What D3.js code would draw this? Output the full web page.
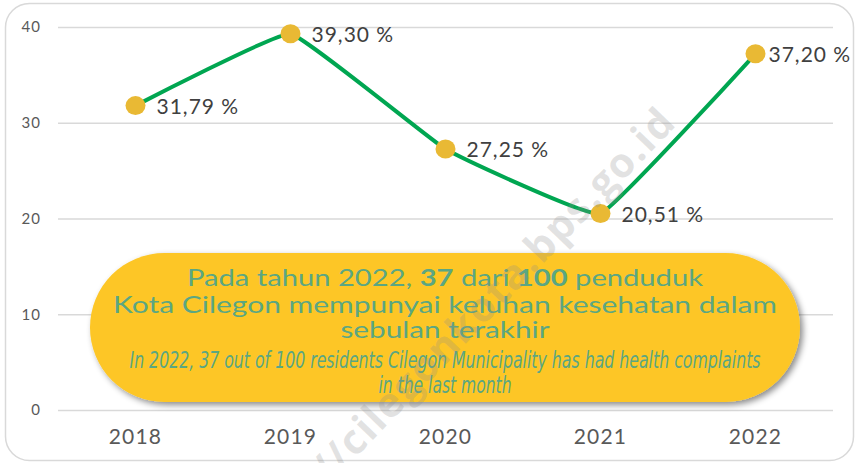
<!DOCTYPE html>
<html>
<head>
<meta charset="utf-8">
<script src="https://cdn.jsdelivr.net/npm/d3@7"></script>
<style>
  body { margin: 0; background: #fff; }
  svg { display: block; }
</style>
</head>
<body>
<script>
// data
var years = ["2018", "2019", "2020", "2021", "2022"];
var values = [31.79, 39.30, 27.25, 20.51, 37.20];
var valueLabels = ["31,79 %", "39,30 %", "27,25 %", "20,51 %", "37,20 %"];
var yTicks = [0, 10, 20, 30, 40];

var width = 857, height = 463;
var margin = {top: 27, right: 24, bottom: 53, left: 58};

var svg = d3.select("body").append("svg")
    .attr("width", width)
    .attr("height", height);

var defs = svg.append("defs");
var shadow = defs.append("filter").attr("id", "shadow")
    .attr("x", "-10%").attr("y", "-20%").attr("width", "120%").attr("height", "150%");
shadow.append("feDropShadow")
    .attr("dx", 3).attr("dy", 3).attr("stdDeviation", 3)
    .attr("flood-color", "#000").attr("flood-opacity", 0.45);

// card outline
svg.append("rect")
    .attr("x", 5.5).attr("y", 3.5)
    .attr("width", width - 9).attr("height", height - 6)
    .attr("rx", 24)
    .attr("fill", "#fff")
    .attr("stroke", "#d9d9d9")
    .attr("stroke-width", 1.5);

var x = d3.scaleBand()
    .domain(years)
    .range([margin.left, width - margin.right]);

var y = d3.scaleLinear()
    .domain([0, 40])
    .range([height - margin.bottom, margin.top]);

// grid + y labels
var yAxis = svg.append("g")
    .attr("transform", `translate(${margin.left},0)`)
    .call(d3.axisLeft(y).tickValues(yTicks).tickSize(-(width - margin.left - margin.right)).tickPadding(17));
yAxis.select(".domain").remove();
yAxis.selectAll("line").attr("stroke", "#d9d9d9").attr("stroke-width", 1.5);
yAxis.selectAll("text")
    .attr("fill", "#595959")
    .style("font-family", "Lato, sans-serif")
    .style("font-size", "15px")
    .style("letter-spacing", "1px");

// x labels
var xAxis = svg.append("g")
    .attr("transform", `translate(0,${height - margin.bottom})`)
    .call(d3.axisBottom(x).tickSize(0).tickPadding(19));
xAxis.select(".domain").remove();
xAxis.selectAll("text")
    .attr("fill", "#595959")
    .style("font-family", "Lato, sans-serif")
    .style("font-size", "21px")
    .style("letter-spacing", "1.2px");

var pts = years.map(function(d, i) { return {year: d, value: values[i], label: valueLabels[i]}; });

var line = d3.line()
    .x(function(d) { return x(d.year) + x.bandwidth() / 2; })
    .y(function(d) { return y(d.value); })
    .curve(d3.curveCardinal.tension(0.75));

svg.append("path")
   .datum(pts)
   .attr("fill", "none")
   .attr("stroke", "#00A651")
   .attr("stroke-width", 4)
   .attr("d", line);

svg.selectAll(".dot")
   .data(pts)
   .enter().append("ellipse")
   .attr("class", "dot")
   .attr("cx", function(d) { return x(d.year) + x.bandwidth() / 2; })
   .attr("cy", function(d) { return y(d.value); })
   .attr("rx", 10).attr("ry", 9.5)
   .attr("fill", "#E9B934");

svg.selectAll(".vlabel")
   .data(pts)
   .enter().append("text")
   .attr("class", "vlabel")
   .attr("x", function(d, i) { return x(d.year) + x.bandwidth() / 2 + (i == pts.length - 1 ? 13 : 21); })
   .attr("y", function(d) { return y(d.value) + 8; })
   .attr("fill", "#404040")
   .style("font-family", "Lato, sans-serif")
   .style("font-size", "21px")
   .style("letter-spacing", "1px")
   .text(function(d) { return d.label; });

// yellow banner
var banner = svg.append("g");
banner.append("rect")
    .attr("x", 90).attr("y", 253)
    .attr("width", 710).attr("height", 149)
    .attr("rx", 74.5)
    .attr("fill", "#FDC626")
    .attr("filter", "url(#shadow)");

var bx = 445, green = "#5BA682";
var t1 = banner.append("text")
    .attr("x", bx).attr("y", 286)
    .attr("text-anchor", "middle")
    .attr("fill", green)
    .attr("textLength", 516)
    .attr("lengthAdjust", "spacingAndGlyphs")
    .style("font-family", "Lato, sans-serif")
    .style("font-size", "23px");
t1.append("tspan").text("Pada tahun 2022, ");
t1.append("tspan").attr("font-weight", "bold").text("37");
t1.append("tspan").text(" dari ");
t1.append("tspan").attr("font-weight", "bold").text("100");
t1.append("tspan").text(" penduduk");

banner.append("text")
    .attr("x", bx).attr("y", 313)
    .attr("text-anchor", "middle")
    .attr("fill", green)
    .attr("textLength", 664)
    .attr("lengthAdjust", "spacingAndGlyphs")
    .style("font-family", "Lato, sans-serif")
    .style("font-size", "23px")
    .text("Kota Cilegon mempunyai keluhan kesehatan dalam");

banner.append("text")
    .attr("x", bx).attr("y", 338)
    .attr("text-anchor", "middle")
    .attr("fill", green)
    .attr("textLength", 209)
    .attr("lengthAdjust", "spacingAndGlyphs")
    .style("font-family", "Lato, sans-serif")
    .style("font-size", "23px")
    .text("sebulan terakhir");

banner.append("text")
    .attr("x", bx).attr("y", 368)
    .attr("text-anchor", "middle")
    .attr("fill", green)
    .attr("textLength", 631)
    .attr("lengthAdjust", "spacingAndGlyphs")
    .style("font-family", "'Liberation Sans Narrow', 'DejaVu Sans Condensed', sans-serif")
    .style("font-style", "italic")
    .style("font-size", "23px")
    .text("In 2022, 37 out of 100 residents Cilegon Municipality has had health complaints");

banner.append("text")
    .attr("x", bx).attr("y", 393)
    .attr("text-anchor", "middle")
    .attr("fill", green)
    .attr("textLength", 133)
    .attr("lengthAdjust", "spacingAndGlyphs")
    .style("font-family", "'Liberation Sans Narrow', 'DejaVu Sans Condensed', sans-serif")
    .style("font-style", "italic")
    .style("font-size", "23px")
    .text("in the last month");

// watermark
svg.append("text")
    .attr("transform", "translate(678,124) rotate(-46)")
    .attr("text-anchor", "end")
    .attr("fill", "#8c8c8c")
    .attr("fill-opacity", 0.25)
    .style("font-family", "'Open Sans', sans-serif")
    .style("font-weight", "bold")
    .style("font-size", "41px")
    .style("letter-spacing", "1.5px")
    .text("https://cilegonkota.bps.go.id");
</script>
</body>
</html>
